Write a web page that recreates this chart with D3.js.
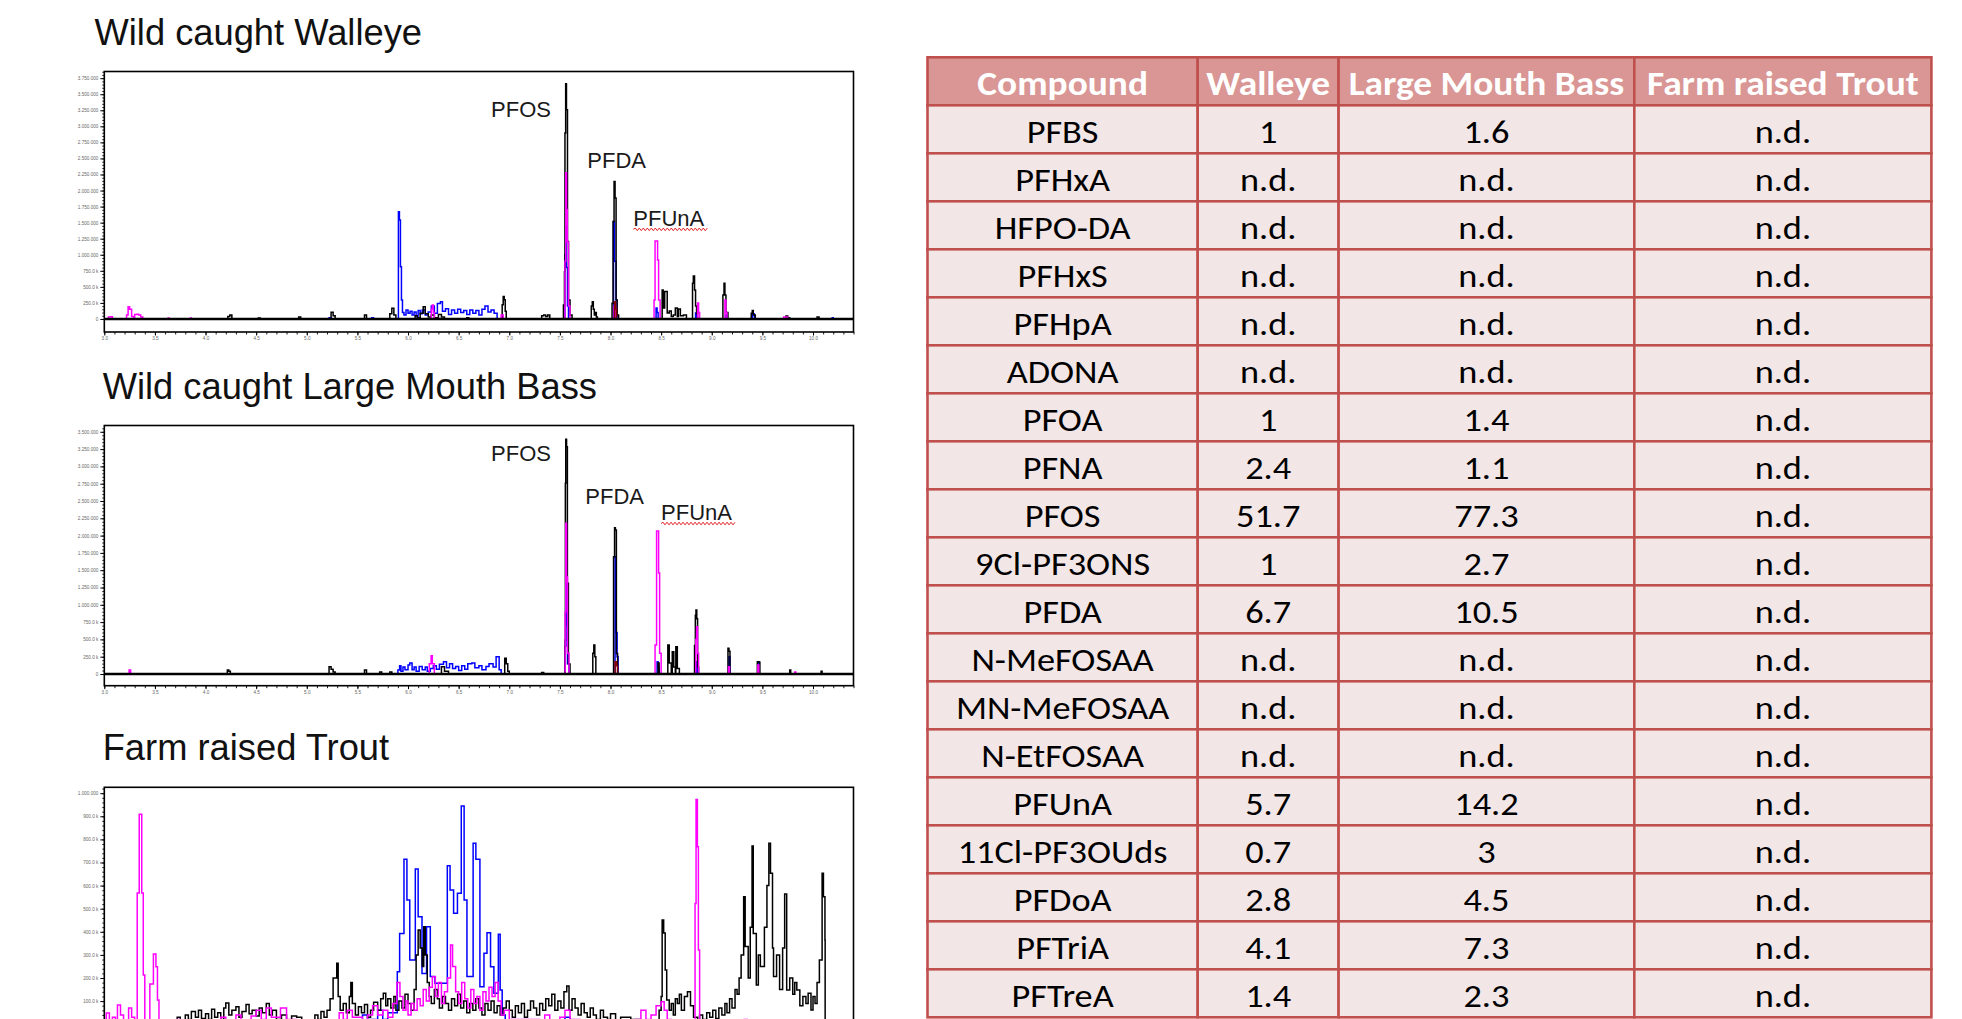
<!DOCTYPE html>
<html><head><meta charset="utf-8">
<script src="https://cdn.jsdelivr.net/npm/d3@7"></script>
<style>html,body{margin:0;padding:0;background:#fff;overflow:hidden}svg{display:block}</style>
</head><body>
<script>
// ---------------- DATA ----------------
// Chromatogram traces: [retention time (min), intensity (thousand counts)]
const walleyeBlack = [[3.0,0],[4.20,0],[4.22,40],[4.24,62],[4.26,0],[4.50,0],[4.52,15],[4.54,0],[4.90,0],[4.92,30],[4.94,0],
[5.22,0],[5.24,104],[5.26,50],[5.28,0],[5.55,0],[5.57,60],[5.59,0],[5.80,0],[5.82,80],[5.84,166],[5.86,60],[5.88,0],
[6.05,0],[6.07,50],[6.09,20],[6.12,90],[6.15,192],[6.17,80],[6.20,30],[6.23,60],[6.26,20],[6.30,70],[6.33,30],[6.36,0],
[6.55,0],[6.58,20],[6.60,0],[6.92,0],[6.93,220],[6.94,348],[6.95,300],[6.96,120],[6.97,0],
[7.30,0],[7.32,50],[7.34,62],[7.36,40],[7.38,60],[7.40,0],
[7.52,0],[7.535,218],[7.545,737],[7.55,2895],[7.557,3664],[7.565,3258],[7.575,1205],[7.585,296],[7.60,62],[7.62,0],
[7.80,0],[7.81,200],[7.82,270],[7.83,150],[7.84,60],[7.85,100],[7.86,30],[7.87,0],
[8.0,0],[8.015,245],[8.025,1517],[8.035,2140],[8.045,1882],[8.055,296],[8.065,60],[8.08,0],
[8.50,0],[8.51,452],[8.52,171],[8.535,426],[8.55,426],[8.56,94],[8.58,125],[8.60,40],[8.62,60],[8.64,171],[8.66,40],[8.67,156],[8.69,50],[8.72,62],[8.75,0],
[8.80,0],[8.81,556],[8.818,670],[8.83,452],[8.84,200],[8.85,80],[8.86,0],
[9.10,0],[9.11,374],[9.121,556],[9.13,374],[9.14,100],[9.16,0],
[9.38,0],[9.39,90],[9.40,130],[9.41,60],[9.43,0],[9.72,0],[9.733,47],[9.75,20],[9.77,0],[10.03,0],[10.04,30],[10.06,0],[10.4,0]];
const walleyeBlue = [[5.0,0],[5.20,0],[5.22,20],[5.24,0],[5.62,0],[5.64,20],[5.66,0],
[5.905,1670],[5.915,1540],[5.925,815],[5.935,296],[5.945,100],[5.96,60],[5.98,140],[6.0,90],[6.02,120],[6.04,60],[6.06,110],[6.08,47],[6.10,130],[6.12,80],[6.14,140],[6.17,60],[6.20,110],[6.23,200],[6.26,90],[6.29,240],[6.32,270],[6.34,120],[6.37,160],[6.40,70],[6.43,140],[6.46,90],[6.49,150],[6.52,100],[6.55,130],[6.58,70],[6.61,140],[6.64,90],[6.67,130],[6.70,60],[6.73,150],[6.76,200],[6.79,110],[6.82,140],[6.85,90],[6.88,0],
[7.54,0],[7.55,1000],[7.557,1439],[7.565,800],[7.575,200],[7.585,0],
[8.02,0],[8.03,1517],[8.04,900],[8.055,296],[8.065,0],
[8.44,0],[8.45,171],[8.46,100],[8.47,0],[8.83,0],[8.84,94],[8.85,0],[9.13,0],[9.14,60],[9.15,0],[9.38,0],[9.40,80],[9.42,0],[10.18,0],[10.19,20],[10.2,0],[10.4,0]];
const walleyeMagenta = [[3.0,0],[3.04,30],[3.06,36],[3.08,0],[3.20,0],[3.22,60],[3.235,192],[3.25,150],[3.27,40],[3.29,0],[3.30,70],[3.32,75],[3.34,60],[3.36,30],[3.38,0],
[3.62,0],[3.63,15],[3.64,0],[3.84,0],[3.85,15],[3.86,0],[6.22,0],[6.23,150],[6.24,218],[6.25,100],[6.26,0],[6.90,0],[6.92,60],[6.94,0],
[7.54,0],[7.55,900],[7.558,2276],[7.566,1700],[7.574,1200],[7.585,200],[7.60,0],[8.02,0],[8.035,200],[8.05,0],
[8.42,0],[8.43,296],[8.44,1216],[8.455,1216],[8.465,920],[8.475,296],[8.49,0],
[8.85,0],[8.86,250],[8.87,100],[8.88,0],[9.12,0],[9.13,296],[9.14,100],[9.15,0],[9.70,0],[9.71,30],[9.74,30],[9.75,0],[10.4,0]];
const walleyeDarkred = [[7.9,0],[8.03,0],[8.04,270],[8.05,150],[8.06,0],[8.1,0]];

const bassBlack = [[3.0,0],[4.20,0],[4.215,58],[4.23,40],[4.245,0],[5.21,0],[5.22,105],[5.24,70],[5.26,30],[5.28,0],
[5.55,0],[5.57,58],[5.59,0],[5.70,0],[5.72,30],[5.74,0],[5.80,0],[5.82,30],[5.84,0],[6.30,0],[6.33,105],[6.36,40],[6.40,0],
[6.94,0],[6.955,226],[6.97,150],[6.985,40],[7.0,0],[7.30,0],[7.32,20],[7.34,0],
[7.54,0],[7.55,491],[7.554,2755],[7.558,3391],[7.566,3285],[7.574,1310],[7.584,145],[7.60,0],
[7.81,0],[7.825,300],[7.835,419],[7.845,250],[7.855,0],
[8.02,0],[8.03,1695],[8.04,2114],[8.048,2081],[8.058,298],[8.07,0],
[8.46,0],[8.47,160],[8.48,0],[8.55,0],[8.566,419],[8.58,160],[8.60,0],[8.61,322],[8.625,100],[8.64,0],[8.645,395],[8.66,80],[8.68,0],
[8.82,0],[8.83,413],[8.838,850],[8.844,925],[8.852,800],[8.86,100],[8.87,0],
[9.15,0],[9.16,371],[9.17,330],[9.18,0],[9.44,0],[9.45,178],[9.465,170],[9.475,0],[9.76,0],[9.77,58],[9.78,0],[10.07,0],[10.08,40],[10.09,0],[10.4,0]];
const bassBlue = [[5.0,0],[5.88,0],[5.90,58],[5.917,120],[5.93,40],[5.95,100],[5.97,60],[6.0,130],[6.017,160],[6.04,60],[6.06,100],[6.08,40],[6.11,110],[6.14,60],[6.17,100],[6.19,40],[6.22,80],[6.25,120],[6.28,70],[6.31,140],[6.35,178],[6.38,90],[6.41,150],[6.44,80],[6.47,110],[6.50,50],[6.53,120],[6.56,70],[6.59,150],[6.63,160],[6.66,90],[6.70,120],[6.73,60],[6.77,110],[6.80,150],[6.84,100],[6.87,250],[6.88,250],[6.90,60],[6.92,0],
[7.54,0],[7.55,404],[7.558,1310],[7.566,700],[7.575,150],[7.59,0],
[8.03,0],[8.045,1695],[8.055,600],[8.065,250],[8.075,0],
[8.45,0],[8.46,178],[8.47,100],[8.48,0],[8.84,0],[8.85,178],[8.86,0],[9.16,0],[9.17,250],[9.18,0],[9.45,0],[9.46,178],[9.47,0],[10.4,0]];
const bassMagenta = [[3.0,0],[3.23,0],[3.245,58],[3.26,0],[6.20,0],[6.21,150],[6.228,264],[6.24,150],[6.26,0],
[7.54,0],[7.552,900],[7.558,2177],[7.566,1400],[7.575,300],[7.59,0],
[8.43,0],[8.44,419],[8.455,2066],[8.466,2066],[8.475,1460],[8.485,300],[8.50,0],
[8.83,0],[8.842,500],[8.85,684],[8.86,300],[8.87,0],[9.15,0],[9.165,105],[9.175,0],[9.44,0],[9.455,130],[9.465,0],[9.81,0],[9.82,30],[9.83,0],[10.4,0]];
const bassDarkred = [[7.9,0],[8.035,0],[8.045,178],[8.06,120],[8.07,0],[8.2,0]];

const troutBlack = [[3.0,0],[3.7,0],[3.72,30],[3.75,0],[3.80,40],[3.83,20],[3.86,55],[3.9,30],[3.93,60],[3.96,25],[4.0,45],[4.03,20],[4.06,65],[4.09,30],[4.12,50],[4.15,20],[4.18,70],[4.2,92],[4.23,40],[4.26,60],[4.3,75],[4.33,30],[4.36,55],[4.4,85],[4.43,45],[4.46,60],[4.5,35],[4.53,70],[4.56,50],[4.6,90],[4.63,40],[4.66,60],[4.7,20],[4.75,40],[4.8,10],[4.85,35],[4.9,30],[4.95,0],
[5.05,0],[5.08,40],[5.11,20],[5.14,55],[5.17,30],[5.2,60],[5.23,110],[5.26,200],[5.296,264],[5.31,120],[5.33,60],[5.36,90],[5.39,50],[5.42,120],[5.435,180],[5.45,90],[5.48,40],[5.51,75],[5.54,50],[5.57,85],[5.6,30],[5.63,60],[5.66,95],[5.7,60],[5.73,110],[5.756,134],[5.78,80],[5.8,110],[5.83,70],[5.86,120],[5.88,60],[5.91,100],[5.94,70],[5.97,130],[6.0,90],[6.03,60],[6.06,150],[6.08,300],[6.10,408],[6.12,330],[6.14,250],[6.155,422],[6.17,300],[6.19,180],[6.21,120],[6.23,90],[6.26,150],[6.29,110],[6.31,70],[6.34,120],[6.37,90],[6.4,60],[6.43,110],[6.46,80],[6.49,130],[6.52,70],[6.55,100],[6.58,50],[6.61,90],[6.64,60],[6.67,110],[6.7,70],[6.73,40],[6.76,90],[6.79,60],[6.82,100],[6.85,50],[6.88,80],[6.91,40],[6.94,70],[6.97,100],[7.0,60],[7.03,30],[7.06,80],[7.09,50],[7.12,90],[7.15,30],[7.18,60],[7.21,100],[7.24,70],[7.27,40],[7.3,90],[7.33,60],[7.36,110],[7.39,80],[7.42,130],[7.45,60],[7.48,100],[7.51,70],[7.54,140],[7.568,165],[7.59,60],[7.62,110],[7.65,70],[7.68,40],[7.71,90],[7.74,50],[7.77,30],[7.8,70],[7.83,40],[7.86,20],[7.9,60],[7.93,30],[7.97,20],[8.0,45],[8.05,10],[8.1,30],[8.2,20],[8.3,0],
[8.45,0],[8.48,60],[8.5,120],[8.51,451],[8.525,395],[8.54,235],[8.555,105],[8.58,60],[8.6,90],[8.62,40],[8.64,110],[8.66,90],[8.68,130],[8.7,60],[8.73,120],[8.76,141],[8.79,80],[8.82,30],[8.86,0],
[8.88,40],[8.91,20],[8.95,50],[8.98,30],[9.01,60],[9.04,25],[9.07,70],[9.1,40],[9.13,90],[9.15,50],[9.176,110],[9.2,70],[9.23,150],[9.25,130],[9.27,200],[9.29,300],[9.315,552],[9.33,336],[9.36,200],[9.38,420],[9.398,771],[9.41,393],[9.44,170],[9.46,300],[9.48,250],[9.52,420],[9.545,600],[9.564,783],[9.58,653],[9.6,330],[9.61,206],[9.64,300],[9.67,150],[9.7,330],[9.72,564],[9.74,148],[9.77,200],[9.80,130],[9.82,180],[9.84,148],[9.87,80],[9.9,120],[9.93,90],[9.952,134],[9.98,61],[10.0,120],[10.02,90],[10.04,180],[10.063,278],[10.09,653],[10.103,552],[10.118,365],[10.12,0]];
const troutBlue = [[5.5,0],[5.55,40],[5.6,20],[5.7,60],[5.75,20],[5.8,50],[5.894,227],[5.917,393],[5.96,714],[5.989,538],[6.017,278],[6.072,672],[6.10,465],[6.138,220],[6.183,422],[6.22,206],[6.266,177],[6.32,177],[6.388,686],[6.415,581],[6.45,480],[6.488,567],[6.526,945],[6.554,538],[6.582,206],[6.643,783],[6.67,714],[6.71,162],[6.75,307],[6.78,396],[6.815,249],[6.848,134],[6.892,389],[6.91,148],[6.93,40],[6.96,0],[7.5,0],[7.55,30],[7.6,0],[10.4,0]];
const troutMagenta = [[3.0,20],[3.02,48],[3.05,10],[3.08,30],[3.11,0],[3.13,83],[3.16,40],[3.19,10],[3.22,0],[3.24,70],[3.27,30],[3.30,0],
[3.325,568],[3.345,909],[3.37,568],[3.385,213],[3.40,0],[3.45,174],[3.485,304],[3.51,249],[3.525,105],[3.54,0],
[3.70,0],[3.72,20],[3.75,0],[4.10,0],[4.15,30],[4.2,10],[4.3,40],[4.35,0],[4.45,35],[4.5,60],[4.55,20],[4.6,70],[4.65,30],[4.74,70],[4.8,20],[4.9,0],
[5.3,0],[5.32,50],[5.36,20],[5.4,60],[5.45,30],[5.55,0],[5.6,40],[5.65,80],[5.7,40],[5.75,60],[5.8,30],[5.85,90],
[5.89,180],[5.92,120],[5.95,60],[5.98,100],[6.0,40],[6.03,90],[6.06,60],[6.09,110],[6.12,80],[6.15,150],[6.18,100],[6.21,160],[6.24,205],[6.27,120],[6.30,180],[6.33,90],[6.36,140],[6.39,200],[6.42,343],[6.44,250],[6.47,140],[6.50,90],[6.53,180],[6.56,110],[6.59,70],[6.62,150],[6.65,90],[6.68,120],[6.71,60],[6.74,140],[6.77,100],[6.80,160],[6.83,120],[6.86,180],[6.89,100],[6.92,40],[6.95,60],[7.0,20],
[7.3,0],[7.35,40],[7.4,10],[7.5,30],[7.55,60],[7.6,20],[7.7,0],[8.2,0],[8.25,20],[8.3,60],[8.35,20],[8.40,40],[8.45,80],[8.5,97],[8.53,60],[8.56,20],[8.6,0],
[8.82,0],[8.835,523],[8.845,973],[8.858,768],[8.868,321],[8.88,0],[9.3,0],[9.32,20],[9.35,0],[10.4,0]];

// Axis ticks / labels
const xTickValues = [3.0,3.5,4.0,4.5,5.0,5.5,6.0,6.5,7.0,7.5,8.0,8.5,9.0,9.5,10.0];
const xTickLabels = ["3.0","3.5","4.0","4.5","5.0","5.5","6.0","6.5","7.0","7.5","8.0","8.5","9.0","9.5","10.0"];
const yTicksWalleye = [0,250,500,750,1000,1250,1500,1750,2000,2250,2500,2750,3000,3250,3500,3750];
const yLabelsWalleye = ["0","250.0 k","500.0 k","750.0 k","1.000.000","1.250.000","1.500.000","1.750.000","2.000.000","2.250.000","2.500.000","2.750.000","3.000.000","3.250.000","3.500.000","3.750.000"];
const yTicksBass = [0,250,500,750,1000,1250,1500,1750,2000,2250,2500,2750,3000,3250,3500];
const yLabelsBass = ["0","250.0 k","500.0 k","750.0 k","1.000.000","1.250.000","1.500.000","1.750.000","2.000.000","2.250.000","2.500.000","2.750.000","3.000.000","3.250.000","3.500.000"];
const yTicksTrout = [100,200,300,400,500,600,700,800,900,1000];
const yLabelsTrout = ["100.0 k","200.0 k","300.0 k","400.0 k","500.0 k","600.0 k","700.0 k","800.0 k","900.0 k","1.000.000"];

// Peak annotations [label, time, intensity]
const walleyePeaks = [["PFOS",6.82,3150],["PFDA",7.771,2349],["PFUnA",8.225,1450]];
const bassPeaks = [["PFOS",6.82,3078],["PFDA",7.751,2452],["PFUnA",8.499,2225]];

// Table
const tableHeaders = ["Compound","Walleye","Large Mouth Bass","Farm raised Trout"];
const compounds = ["PFBS","PFHxA","HFPO-DA","PFHxS","PFHpA","ADONA","PFOA","PFNA","PFOS","9Cl-PF3ONS","PFDA","N-MeFOSAA","MN-MeFOSAA","N-EtFOSAA","PFUnA","11Cl-PF3OUds","PFDoA","PFTriA","PFTreA"];
const walleyeVals = ["1","n.d.","n.d.","n.d.","n.d.","n.d.","1","2.4","51.7","1","6.7","n.d.","n.d.","n.d.","5.7","0.7","2.8","4.1","1.4"];
const bassVals = ["1.6","n.d.","n.d.","n.d.","n.d.","n.d.","1.4","1.1","77.3","2.7","10.5","n.d.","n.d.","n.d.","14.2","3","4.5","7.3","2.3"];
const troutVals = ["n.d.","n.d.","n.d.","n.d.","n.d.","n.d.","n.d.","n.d.","n.d.","n.d.","n.d.","n.d.","n.d.","n.d.","n.d.","n.d.","n.d.","n.d.","n.d."];

// ---------------- LAYOUT ----------------
const W = 1962, H = 1019;
const X_DOMAIN = [3.0, 10.4];
const svg = d3.select("body").append("svg").attr("width", W).attr("height", H);
svg.append("rect").attr("width", W).attr("height", H).attr("fill", "#fff");
const defs = svg.append("defs");

const charts = [
  {id:1, title:"Wild caught Walleye", titleX:94.5, titleY:45, left:104.3, right:853.5, top:71.5, bottom:332, yDomain:[-203,3854],
   yTicks:yTicksWalleye, yLabels:yLabelsWalleye, minorStep:50, traces:[[walleyeBlue,"#0000ff"],[walleyeBlack,"#000"],[walleyeMagenta,"#ff00ff"],[walleyeDarkred,"#8b0000"]], peaks:walleyePeaks, xAxis:true, zero:true},
  {id:2, title:"Wild caught Large Mouth Bass", titleX:102.7, titleY:398.5, left:104.3, right:853.5, top:425.5, bottom:685.7, yDomain:[-169,3591],
   yTicks:yTicksBass, yLabels:yLabelsBass, minorStep:50, traces:[[bassBlue,"#0000ff"],[bassBlack,"#000"],[bassMagenta,"#ff00ff"],[bassDarkred,"#8b0000"]], peaks:bassPeaks, xAxis:true, zero:true},
  {id:3, title:"Farm raised Trout", titleX:102.7, titleY:759.5, left:104.3, right:853.5, top:787.3, bottom:1040, yDomain:[-68.4,1025.5],
   yTicks:yTicksTrout, yLabels:yLabelsTrout, minorStep:20, traces:[[troutBlue,"#0000ff"],[troutBlack,"#000"],[troutMagenta,"#ff00ff"]], peaks:[], xAxis:false, zero:false}
];

charts.forEach(c => {
  const x = d3.scaleLinear().domain(X_DOMAIN).range([c.left, c.right]);
  const y = d3.scaleLinear().domain(c.yDomain).range([c.bottom, c.top]);
  const g = svg.append("g");
  defs.append("clipPath").attr("id","clip"+c.id).append("rect")
    .attr("x",c.left).attr("y",c.top).attr("width",c.right-c.left).attr("height",c.bottom-c.top);

  g.append("text").attr("x",c.titleX).attr("y",c.titleY).text(c.title)
    .attr("font-family","'Liberation Sans', Arial, sans-serif").attr("font-size",36.3).attr("fill","#111");

  const minor = d3.range(0, c.yDomain[1], c.minorStep);
  g.append("g").attr("transform",`translate(${c.left},0)`)
    .call(d3.axisLeft(y).tickValues(minor).tickSize(2).tickFormat(""))
    .call(s => s.select(".domain").remove())
    .call(s => s.selectAll("line").attr("stroke","#000").attr("stroke-width",0.9));
  g.append("g").attr("transform",`translate(${c.left},0)`)
    .call(d3.axisLeft(y).tickValues(c.yTicks).tickSize(4).tickPadding(2).tickFormat((d,i)=>c.yLabels[i]))
    .call(s => s.select(".domain").remove())
    .call(s => s.selectAll("line").attr("stroke","#000").attr("stroke-width",1))
    .call(s => s.selectAll("text").attr("font-size",4.6).attr("fill","#666").attr("font-family","'Liberation Sans', Arial, sans-serif"));

  if (c.xAxis) {
    const minorX = d3.range(3.0, 10.41, 0.1);
    g.append("g").attr("transform",`translate(0,${c.bottom})`)
      .call(d3.axisBottom(x).tickValues(minorX).tickSize(2.5).tickFormat(""))
      .call(s => s.select(".domain").remove())
      .call(s => s.selectAll("line").attr("stroke","#000").attr("stroke-width",0.9));
    g.append("g").attr("transform",`translate(0,${c.bottom})`)
      .call(d3.axisBottom(x).tickValues(xTickValues).tickSize(3.5).tickPadding(1.5).tickFormat((d,i)=>xTickLabels[i]))
      .call(s => s.select(".domain").remove())
      .call(s => s.selectAll("line").attr("stroke","#000").attr("stroke-width",1))
      .call(s => s.selectAll("text").attr("font-size",4.6).attr("fill","#666").attr("font-family","'Liberation Sans', Arial, sans-serif"));
  }

  const line = d3.line().x(d => x(d[0])).y(d => y(d[1])).curve(d3.curveStepAfter);
  const tg = g.append("g").attr("clip-path",`url(#clip${c.id})`);
  c.traces.forEach(([data,color]) => {
    tg.append("path").datum(data).attr("d",line).attr("fill","none")
      .attr("stroke",color).attr("stroke-width",1.5).attr("stroke-linejoin","miter");
  });

  if (c.zero) {
    g.append("line").attr("x1",c.left).attr("x2",c.right).attr("y1",y(0)).attr("y2",y(0))
      .attr("stroke","#000").attr("stroke-width",2.6);
  }
  g.append("rect").attr("x",c.left).attr("y",c.top).attr("width",c.right-c.left).attr("height",c.bottom-c.top)
    .attr("fill","none").attr("stroke","#000").attr("stroke-width",1.6);

  c.peaks.forEach(([label,t,v]) => {
    const txt = g.append("text").attr("x",x(t)).attr("y",y(v)).text(label)
      .attr("font-family","'Liberation Sans', Arial, sans-serif").attr("font-size",22).attr("fill","#1a1a1a");
    if (label === "PFUnA") {
      const bb = txt.node().getBBox();
      const yb = y(v) + 3.5;
      let d = `M${bb.x},${yb}`; let up = true;
      for (let xx = bb.x + 2; xx <= bb.x + bb.width + 3; xx += 2) { d += `L${xx},${yb + (up ? -1.3 : 1.3)}`; up = !up; }
      g.append("path").attr("d",d).attr("fill","none").attr("stroke","#e02020").attr("stroke-width",1);
    }
  });
});

// ---------------- TABLE ----------------
const colEdges = [927.5, 1197.7, 1338.6, 1634.3, 1931.4];
const rows = d3.range(compounds.length + 1);
const rowScale = d3.scaleBand().domain(rows).range([57.3, 57.3 + 48 * rows.length]);
const columns = [compounds, walleyeVals, bassVals, troutVals];
const tg = svg.append("g");
rows.forEach(r => {
  for (let ci = 0; ci < 4; ci++) {
    const x0 = colEdges[ci], x1 = colEdges[ci + 1], y0 = rowScale(r);
    tg.append("rect").attr("x",x0).attr("y",y0).attr("width",x1-x0).attr("height",rowScale.bandwidth())
      .attr("fill", r === 0 ? "#D99694" : "#F2E6E6").attr("stroke","#C0504D").attr("stroke-width",2.6);
  }
});
rows.forEach(r => {
  for (let ci = 0; ci < 4; ci++) {
    const x0 = colEdges[ci], x1 = colEdges[ci + 1], y0 = rowScale(r);
    const txt = r === 0 ? tableHeaders[ci] : columns[ci][r - 1];
    tg.append("text").attr("transform",`translate(${(x0+x1)/2},${y0 + 37.5}) scale(1.1,1)`)
      .attr("text-anchor","middle").text(txt)
      .attr("font-family","Carlito, Lato, 'Open Sans', sans-serif")
      .attr("font-size", r === 0 ? 34 : 33).attr("font-weight", r === 0 ? 700 : 400)
      .attr("fill", r === 0 ? "#fff" : "#000");
  }
});
</script>
</body></html>
